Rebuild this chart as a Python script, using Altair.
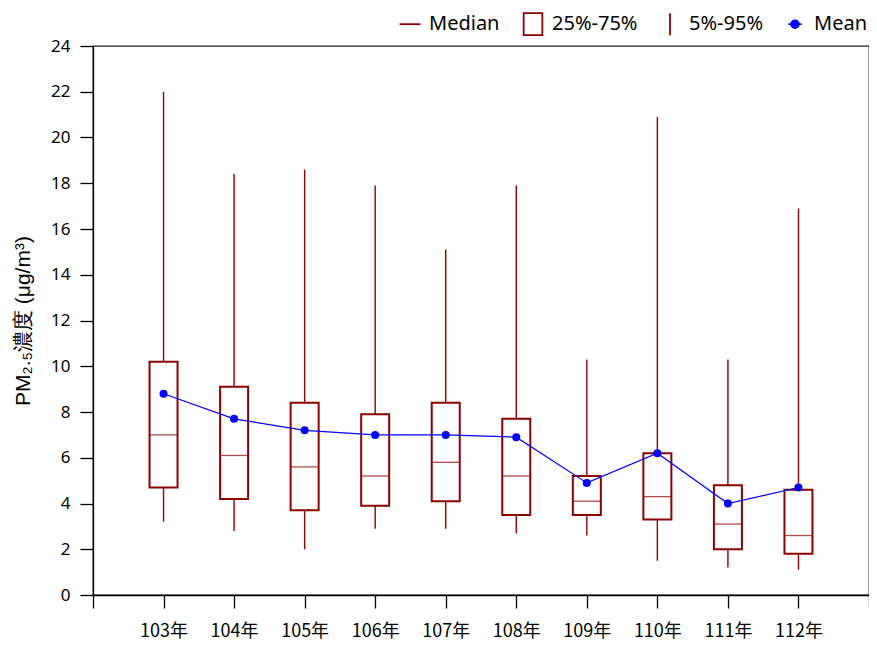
import altair as alt
import pandas as pd

years = [103, 104, 105, 106, 107, 108, 109, 110, 111, 112]
p5 = [3.2, 2.8, 2.0, 2.9, 2.9, 2.7, 2.6, 1.5, 1.2, 1.1]
p25 = [4.7, 4.2, 3.7, 3.9, 4.1, 3.5, 3.5, 3.3, 2.0, 1.8]
median = [7.0, 6.1, 5.6, 5.2, 5.8, 5.2, 4.1, 4.3, 3.1, 2.6]
p75 = [10.2, 9.1, 8.4, 7.9, 8.4, 7.7, 5.2, 6.2, 4.8, 4.6]
p95 = [22.0, 18.4, 18.6, 17.9, 15.1, 17.9, 10.3, 20.9, 10.3, 16.9]
mean = [8.8, 7.7, 7.2, 7.0, 7.0, 6.9, 4.9, 6.2, 4.0, 4.7]

legend_items = ["Median", "25%-75%", "5%-95%", "Mean"]

df = pd.DataFrame({"year": years, "p5": p5, "p25": p25, "median": median,
                   "p75": p75, "p95": p95, "mean": mean})
leg_df = pd.DataFrame({"item": legend_items, "year": [103] * 4, "v": [-5] * 4})

RED = "#8B0000"
BLUE = "#0000FF"

xscale = alt.Scale(domain=[102, 113], nice=False, zero=False, padding=0)
yscale = alt.Scale(domain=[0, 24], nice=False, padding=0)

x_axis = alt.Axis(
    values=list(range(102, 114)),
    labelExpr="datum.value >= 103 && datum.value <= 112 ? datum.value + '年' : ''",
    title=None, grid=False, tickSize=13, labelPadding=14,
    labelFont="Noto Sans CJK TC", labelFontSize=18, labelColor="#000",
    domainColor="#000", tickColor="#000", labelFlush=False,
)
y_axis = alt.Axis(
    values=list(range(0, 25, 2)), title="PM₂.₅濃度 (μg/m³)", grid=False,
    tickSize=13, labelPadding=10, labelFont="Noto Sans", labelFontSize=17,
    labelColor="#000", titleFont="Liberation Sans", titleFontSize=21,
    titleFontWeight="normal", titleColor="#000", titlePadding=17,
    domainColor="#000", tickColor="#000",
)

base = alt.Chart(df)
X = alt.X("year:Q", scale=xscale, axis=x_axis)

whisker = base.mark_rule(color=RED, strokeWidth=1.4).encode(
    x=X, y=alt.Y("p5:Q", scale=yscale, axis=y_axis), y2="p95:Q")
box = base.mark_bar(size=28, fill="white", stroke=RED, strokeWidth=2).encode(
    x=X, y=alt.Y("p25:Q", scale=yscale), y2="p75:Q")
med = base.mark_tick(orient="horizontal", size=28, thickness=1.3, color=RED).encode(
    x=X, y=alt.Y("median:Q", scale=yscale))
mline = base.mark_line(color=BLUE, strokeWidth=1.2).encode(
    x=X, y=alt.Y("mean:Q", scale=yscale))
mpts = base.mark_point(filled=True, color=BLUE, size=64, opacity=1).encode(
    x=X, y=alt.Y("mean:Q", scale=yscale))

pad = "M0,-1L0,-1M0,1L0,1"
shapes = [
    "M-0.95,0H0.95" + pad,
    "M-0.85,-1H0.85V1H-0.85Z",
    "M0,-1V1",
    "M-0.6,0H0.6M0.35,0A0.35,0.35,0,1,1,-0.35,0A0.35,0.35,0,1,1,0.35,0Z" + pad,
]
legend = alt.Legend(
    title=None, orient="none", direction="horizontal", legendX=305, legendY=-34,
    labelFont="Noto Sans", labelFontSize=20, labelColor="#000",
    labelExpr="datum.label == '5%-95%' ? '\u00a05%-95%' : datum.label",
    symbolSize=484, labelOffset=7, columnPadding=20, symbolStrokeWidth=1.8,
)
leg = alt.Chart(leg_df).mark_point(clip=True, filled=False, opacity=1).encode(
    x=alt.X("year:Q", scale=xscale),
    y=alt.Y("v:Q", scale=yscale),
    shape=alt.Shape("item:N", scale=alt.Scale(domain=legend_items, range=shapes), legend=legend),
    fill=alt.Fill("item:N", scale=alt.Scale(domain=legend_items,
                  range=["transparent", "transparent", "transparent", BLUE]), legend=legend),
    stroke=alt.Stroke("item:N", scale=alt.Scale(domain=legend_items,
                      range=[RED, RED, RED, BLUE]), legend=legend),
)

chart = alt.layer(whisker, box, med, mline, mpts, leg).properties(
    width=776, height=549,
    autosize=alt.AutoSizeParams(type="none"),
    padding={"left": 85, "top": 38, "right": 0, "bottom": 46},
).configure_view(stroke="#222", strokeWidth=1.3).configure_axis(domainWidth=1.3, tickWidth=1.3)

chart.save("out.html", embed_options={"renderer": "svg", "actions": False})
